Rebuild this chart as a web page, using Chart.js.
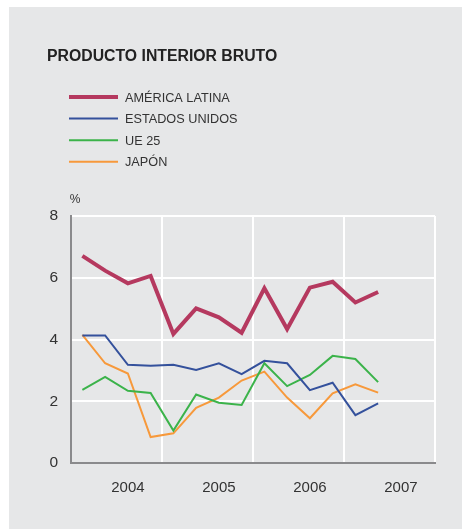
<!DOCTYPE html>
<html>
<head>
<meta charset="utf-8">
<script src="https://cdn.jsdelivr.net/npm/chart.js@4.4.1/dist/chart.umd.min.js"></script>
<style>
html,body{margin:0;padding:0;background:#ffffff;}
#wrap{position:absolute;left:0;top:0;width:462px;height:529px;}
</style>
</head>
<body>
<div id="wrap"><canvas id="c" width="462" height="529"></canvas></div>
<script>
// Quarterly observations (x position = index in this list)
const quarters = ['2004 T1','2004 T2','2004 T3','2004 T4','2005 T1','2005 T2','2005 T3','2005 T4','2006 T1','2006 T2','2006 T3','2006 T4','2007 T1','2007 T2'];
const yearLabels = ['2004','2005','2006','2007'];
const yTicks = [0, 2, 4, 6, 8];

const americaLatina = [6.71, 6.23, 5.82, 6.06, 4.18, 5.01, 4.72, 4.22, 5.66, 4.34, 5.68, 5.87, 5.20, 5.54];
const estadosUnidos = [4.13, 4.13, 3.18, 3.15, 3.18, 3.01, 3.23, 2.88, 3.31, 3.23, 2.36, 2.60, 1.55, 1.93];
const ue25          = [2.37, 2.79, 2.34, 2.27, 1.05, 2.22, 1.95, 1.88, 3.23, 2.49, 2.85, 3.47, 3.37, 2.62];
const japon         = [4.15, 3.23, 2.90, 0.84, 0.96, 1.79, 2.12, 2.67, 2.96, 2.12, 1.45, 2.26, 2.55, 2.28];

const seriesNames = ['AMÉRICA LATINA', 'ESTADOS UNIDOS', 'UE 25', 'JAPÓN'];
const title = 'PRODUCTO INTERIOR BRUTO';
const unit = '%';

const colors = ['#b5395f', '#34519c', '#3bb34a', '#f7993b'];
const widths = [4, 2, 2, 2];
const FONT = '"Liberation Sans", Arial, Helvetica, sans-serif';
const TEXT = '#333333';
const AXIS = '#8a8a8c';

// year label i sits at quarter slot 2 + 4*i; year boundaries at -0.5 + 4*k
const labelPos = yearLabels.map((_, i) => 2 + 4 * i);
const boundaries = [0, 1, 2, 3, 4].map(k => -0.5 + 4 * k);

function pts(arr) { return arr.map((v, i) => ({x: i, y: v})); }

const panelPlugin = {
  id: 'panel',
  beforeDraw(chart) {
    const ctx = chart.ctx;
    ctx.save();
    ctx.fillStyle = '#e6e7e8';
    ctx.fillRect(9, 7, chart.width - 9, chart.height - 7);
    ctx.restore();
  },
  afterDraw(chart) {
    const ctx = chart.ctx;
    ctx.save();
    // title
    ctx.fillStyle = '#222222';
    ctx.font = 'bold 15.8px ' + FONT;
    ctx.textAlign = 'left';
    ctx.textBaseline = 'alphabetic';
    ctx.fillText(title, 47, 61);
    // legend
    ctx.font = '12.7px ' + FONT;
    chart.data.datasets.forEach((ds, i) => {
      const yc = 97 + i * 21.6;
      ctx.strokeStyle = ds.borderColor;
      ctx.lineWidth = ds.borderWidth;
      ctx.beginPath();
      ctx.moveTo(69, yc);
      ctx.lineTo(118, yc);
      ctx.stroke();
      ctx.fillStyle = TEXT;
      ctx.textBaseline = 'middle';
      ctx.fillText(ds.label, 125, yc + 1);
    });
    // unit
    ctx.font = '12px ' + FONT;
    ctx.textAlign = 'center';
    ctx.textBaseline = 'middle';
    ctx.fillStyle = TEXT;
    ctx.fillText(unit, 75, 200);
    ctx.restore();
  }
};

const seriesData = [americaLatina, estadosUnidos, ue25, japon];

new Chart(document.getElementById('c'), {
  type: 'line',
  data: {
    labels: quarters,
    datasets: seriesData.map((d, i) => ({
      label: seriesNames[i],
      data: pts(d),
      borderColor: colors[i],
      backgroundColor: colors[i],
      borderWidth: widths[i],
      pointRadius: 0,
      tension: 0,
      fill: false,
      borderJoinStyle: 'miter'
    }))
  },
  options: {
    responsive: false,
    animation: false,
    events: [],
    layout: {padding: {left: 0, right: 27, top: 216, bottom: 0}},
    plugins: {legend: {display: false}, tooltip: {enabled: false}, title: {display: false}},
    scales: {
      x: {
        type: 'linear',
        min: -0.5,
        max: 15.5,
        afterBuildTicks(scale) {
          const vals = boundaries.concat(labelPos).sort((a, b) => a - b);
          scale.ticks = vals.map(v => ({value: v}));
        },
        afterFit(scale) { scale.height = 66; },
        ticks: {
          autoSkip: false,
          maxRotation: 0,
          padding: 16,
          color: TEXT,
          font: {family: FONT, size: 15},
          callback(v) {
            const k = labelPos.indexOf(v);
            return k >= 0 ? yearLabels[k] : '';
          }
        },
        grid: {
          drawTicks: false,
          lineWidth: 2,
          color(ctx) {
            const v = ctx.tick ? ctx.tick.value : null;
            if (v === null || v === -0.5) return 'rgba(0,0,0,0)';
            return boundaries.includes(v) ? '#ffffff' : 'rgba(0,0,0,0)';
          }
        },
        border: {display: true, color: AXIS, width: 2}
      },
      y: {
        min: 0,
        max: 8,
        afterBuildTicks(scale) { scale.ticks = yTicks.map(v => ({value: v})); },
        afterFit(scale) { scale.width = 71; },
        ticks: {
          padding: 13,
          color: TEXT,
          font: {family: FONT, size: 15.5}
        },
        grid: {
          drawTicks: false,
          lineWidth: 2,
          color(ctx) {
            return (ctx.tick && ctx.tick.value === 0) ? 'rgba(0,0,0,0)' : '#ffffff';
          }
        },
        border: {display: true, color: AXIS, width: 2}
      }
    }
  },
  plugins: [panelPlugin]
});
</script>
</body>
</html>
